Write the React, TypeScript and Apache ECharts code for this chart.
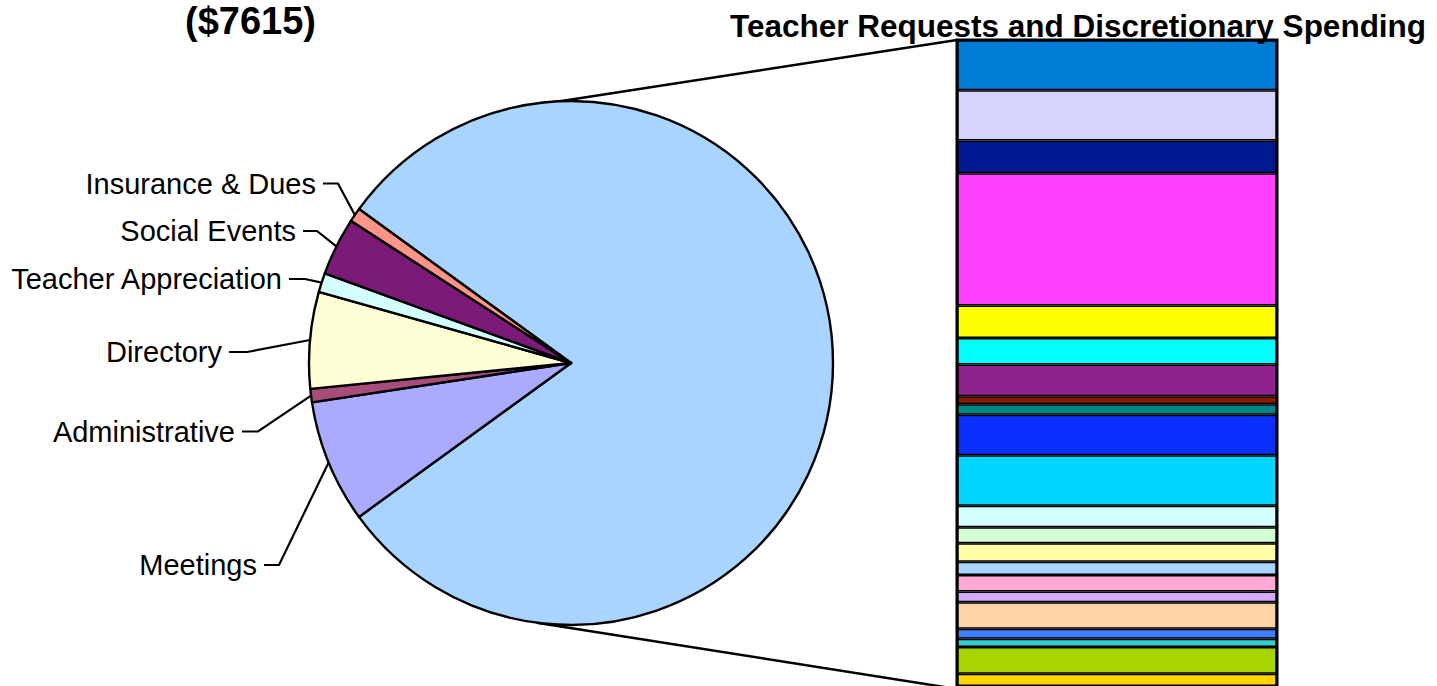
import React, { useEffect, useRef } from "react";
import * as echarts from "echarts";

// ---- Data ----
const pieNames = ["Meetings", "Administrative", "Directory", "Teacher Appreciation", "Social Events", "Insurance & Dues"];
const pieValues = [578, 63, 453, 90, 272, 66];
const pieColors = ["#AAAAFF", "#A64D79", "#FFFFD6", "#D4FFFF", "#7B1B77", "#FF9488"];
const otherName = "Teacher Requests and Discretionary Spending";
const otherColor = "#A8D4FF";

const barNames = [
  "Item 1", "Item 2", "Item 3", "Item 4", "Item 5", "Item 6", "Item 7", "Item 8", "Item 9", "Item 10", "Item 11",
  "Item 12", "Item 13", "Item 14", "Item 15", "Item 16", "Item 17", "Item 18", "Item 19", "Item 20", "Item 21", "Item 22",
];
const barValues = [474, 475, 307, 1247, 307, 251, 299, 75, 100, 381, 477, 202, 151, 175, 126, 154, 101, 251, 94, 79, 251, 116];
const barColors = [
  "#007BD6", "#D4D4FF", "#00188F", "#FF40FF", "#FFFF00", "#00FFFF", "#902290", "#8B1A00", "#008888", "#0A30FF", "#00D4FF",
  "#D4FFFF", "#D4FFD4", "#FFFFA8", "#A8D4FF", "#FFAAD4", "#D4AAFF", "#FFD4A8", "#3F7FFF", "#33CCCC", "#A8D400", "#FFD400",
];

const titleMain = "($7615)";
const titleBar = "Teacher Requests and Discretionary Spending";

// ---- Layout / style ----
const W = 1437;
const H = 686;
const CX = 571;
const CY = 363;
const R = 262;
const BAR_LEFT = 957;
const BAR_WIDTH = 320;
const BAR_TOP = 40;
const BAR_HEIGHT = 649;
const FONT = "'Liberation Sans', Arial, Helvetica, sans-serif";

// label placement: [textRightX, y, kneeX] by pie data index (0 = other slice)
const LABEL_POS: Record<number, number[]> = {
  1: [257, 565, 279],
  2: [235, 431.5, 258],
  3: [222, 352, 247],
  4: [282, 279, 305],
  5: [296, 231, 317],
  6: [316, 183.5, 338],
};

export default function App() {
  const ref = useRef<HTMLDivElement>(null);

  useEffect(() => {
    document.body.style.margin = "0";
    if (!ref.current) return;
    const chart = echarts.init(ref.current, undefined, { renderer: "svg" });

    const otherValue = barValues.reduce((a, b) => a + b, 0);
    const total = otherValue + pieValues.reduce((a, b) => a + b, 0);
    const startAngle = (otherValue / total) * 180;

    const pieData: any[] = [
      {
        name: otherName,
        value: otherValue,
        itemStyle: { color: otherColor },
        label: { show: false },
        labelLine: { show: false },
      },
      ...pieNames.map((n, i) => ({ name: n, value: pieValues[i], itemStyle: { color: pieColors[i] } })),
    ];

    const topA = (92.4 * Math.PI) / 180;
    const botA = (-97.5 * Math.PI) / 180;

    const option: any = {
      animation: false,
      backgroundColor: "#fff",
      title: [
        {
          text: titleMain,
          left: 180,
          top: -3,
          textStyle: { fontSize: 38, fontWeight: "bold", color: "#000", fontFamily: FONT },
        },
        {
          text: titleBar,
          left: 725,
          top: 5,
          textStyle: { fontSize: 31.5, fontWeight: "bold", color: "#000", fontFamily: FONT },
        },
      ],
      grid: { left: BAR_LEFT, top: BAR_TOP, width: BAR_WIDTH, height: BAR_HEIGHT, containLabel: false },
      xAxis: { type: "category", data: ["Other"], show: false },
      yAxis: { type: "value", min: 0, max: otherValue, inverse: true, show: false },
      graphic: [
        {
          type: "line",
          silent: true,
          shape: { x1: CX + R * Math.cos(topA), y1: CY - R * Math.sin(topA), x2: BAR_LEFT, y2: BAR_TOP },
          style: { stroke: "#000", lineWidth: 2.5 },
        },
        {
          type: "line",
          silent: true,
          shape: { x1: CX + R * Math.cos(botA), y1: CY - R * Math.sin(botA), x2: BAR_LEFT, y2: BAR_TOP + BAR_HEIGHT },
          style: { stroke: "#000", lineWidth: 2.5 },
        },
        {
          type: "rect",
          silent: true,
          z: 100,
          shape: { x: BAR_LEFT, y: BAR_TOP, width: BAR_WIDTH, height: BAR_HEIGHT },
          style: { fill: "none", stroke: "#000", lineWidth: 3 },
        },
      ],
      series: [
        {
          type: "pie",
          center: [CX, CY],
          radius: R,
          startAngle,
          clockwise: true,
          avoidLabelOverlap: false,
          silent: true,
          data: pieData,
          itemStyle: { borderColor: "#000", borderWidth: 2.4 },
          label: { show: true, position: "outside", fontSize: 29, color: "#000", fontFamily: FONT },
          labelLine: { show: true, lineStyle: { color: "#000", width: 2.2 } },
          labelLayout: (params: any) => {
            const cfg = LABEL_POS[params.dataIndex];
            if (!cfg) return {};
            const [tx, ty, kx] = cfg;
            const p0 = params.labelLinePoints && params.labelLinePoints[0] ? params.labelLinePoints[0] : [CX - R, CY];
            return {
              x: tx,
              y: ty,
              align: "right",
              verticalAlign: "middle",
              labelLinePoints: [p0, [kx, ty], [tx + 7, ty]],
            };
          },
          emphasis: { disabled: true },
        },
        ...barValues.map((v, i) => ({
          type: "bar",
          name: barNames[i],
          stack: "other",
          barWidth: "100%",
          silent: true,
          data: [v],
          itemStyle: { color: barColors[i], borderColor: "#000", borderWidth: 1.5 },
          emphasis: { disabled: true },
        })),
      ],
    };

    chart.setOption(option);
    return () => chart.dispose();
  }, []);

  return <div ref={ref} style={{ width: W, height: H }} />;
}
